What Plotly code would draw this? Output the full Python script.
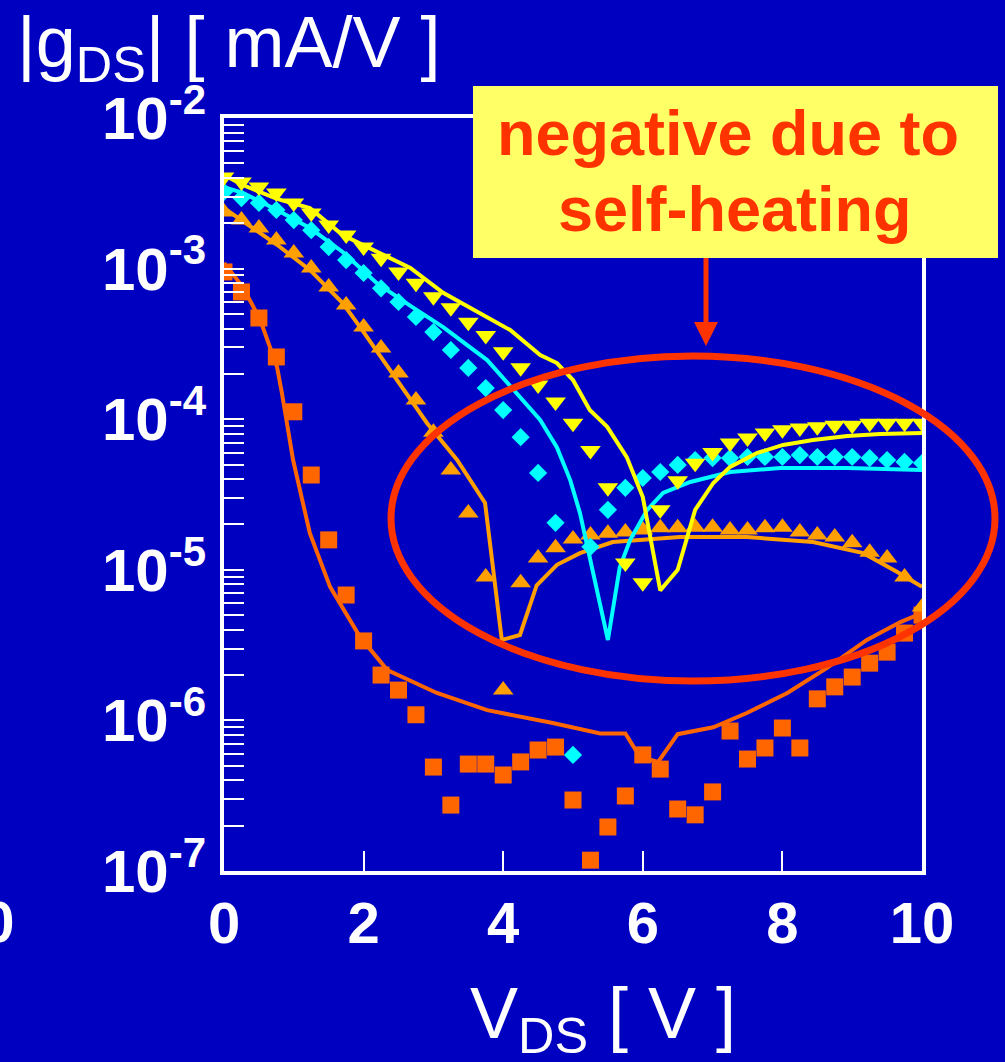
import plotly.graph_objects as go

# ---------------- data ----------------
VDS = [i * 0.25 for i in range(41)]  # 0 .. 10 V, 0.25 V step (measured points)

# Vg highest: yellow triangles (measured) + line (simulated)
yel_meas = [4.06e-3, 3.76e-3, 3.48e-3, 3.18e-3, 2.73e-3, 2.34e-3, 1.95e-3, 1.67e-3, 1.39e-3,
            1.17e-3, 9.5e-4, 8.0e-4, 6.5e-4, 5.5e-4, 4.4e-4, 3.6e-4, 2.8e-4, 2.2e-4, 1.69e-4,
            1.30e-4, 9.4e-5, 6.2e-5, 3.5e-5, 1.11e-5, 8.2e-6, 2.5e-5, 3.9e-5, 5.1e-5, 6.0e-5,
            6.95e-5, 7.5e-5, 8.1e-5, 8.5e-5, 8.75e-5, 8.9e-5, 9.1e-5, 9.1e-5, 9.4e-5, 9.4e-5,
            9.4e-5, 9.4e-5]
yel_sim_x = [0, 0.27, 0.76, 1.23, 1.70, 2.19, 2.67, 3.14, 3.62, 4.10, 4.53, 4.77, 5.0, 5.24, 5.49,
             5.77, 6.0, 6.10, 6.25, 6.50, 6.63, 6.75, 7.01, 7.25, 7.64, 8.01, 8.44, 8.93, 9.40, 10]
yel_sim_y = [4.19e-3, 3.59e-3, 2.90e-3, 2.52e-3, 1.67e-3, 1.29e-3, 1.01e-3, 6.9e-4, 5.15e-4,
             3.91e-4, 2.67e-4, 2.36e-4, 1.82e-4, 1.15e-4, 8.9e-5, 5.6e-5, 3.04e-5, 1.75e-5,
             7.3e-6, 1.0e-5, 1.65e-5, 2.5e-5, 3.77e-5, 4.82e-5, 5.97e-5, 6.75e-5, 7.28e-5,
             7.73e-5, 7.98e-5, 8.1e-5]

# cyan diamonds + line
cya_meas = [3.23e-3, 2.94e-3, 2.73e-3, 2.45e-3, 2.10e-3, 1.80e-3, 1.39e-3, 1.14e-3, 9.35e-4,
            7.4e-4, 6.0e-4, 4.78e-4, 3.79e-4, 2.88e-4, 2.19e-4, 1.61e-4, 1.15e-4, 7.6e-5, 4.4e-5,
            2.05e-5, 5.9e-7, 1.42e-5, 2.5e-5, 3.5e-5, 4.07e-5, 4.46e-5, 4.97e-5, 5.36e-5, 5.52e-5,
            5.52e-5, 5.61e-5, 5.61e-5, 5.61e-5, 5.78e-5, 5.61e-5, 5.61e-5, 5.61e-5, 5.52e-5,
            5.36e-5, 5.2e-5, 5.12e-5]
cya_sim_x = [0, 0.27, 0.76, 1.23, 1.70, 2.19, 2.66, 3.14, 3.77, 4.20, 4.53, 4.77, 4.96, 5.10,
             5.24, 5.50, 5.67, 5.82, 6.06, 6.29, 6.68, 7.25, 7.97, 8.93, 10]
cya_sim_y = [3.48e-3, 3.18e-3, 2.45e-3, 1.86e-3, 1.29e-3, 8.0e-4, 5.7e-4, 4.09e-4, 2.47e-4,
             1.49e-4, 9.9e-5, 6.5e-5, 3.94e-5, 2.38e-5, 1.22e-5, 3.42e-6, 1.04e-5, 1.58e-5,
             2.49e-5, 3.24e-5, 3.83e-5, 4.46e-5, 4.74e-5, 4.74e-5, 4.6e-5]

# orange triangles + line
org_meas = [2.38e-3, 2.10e-3, 1.86e-3, 1.55e-3, 1.27e-3, 1.01e-3, 7.55e-4, 5.73e-4, 4.09e-4,
            2.97e-4, 2.03e-4, 1.34e-4, 8.2e-5, 4.6e-5, 2.38e-5, 8.95e-6, 1.59e-6, 8.2e-6, 1.20e-5,
            1.40e-5, 1.60e-5, 1.70e-5, 1.75e-5, 1.78e-5, 1.84e-5, 1.90e-5, 1.90e-5, 1.92e-5,
            1.92e-5, 1.84e-5, 1.84e-5, 1.90e-5, 1.92e-5, 1.78e-5, 1.70e-5, 1.65e-5, 1.51e-5,
            1.31e-5, 1.20e-5, 8.95e-6, 5.66e-6]
org_sim_x = [0, 0.25, 0.52, 0.76, 1.23, 1.70, 1.95, 2.48, 2.91, 3.34, 3.74, 3.98, 4.24, 4.48,
             4.77, 5.10, 5.57, 6.53, 7.49, 8.44, 9.16, 9.64, 10]
org_sim_y = [2.52e-3, 2.10e-3, 1.72e-3, 1.44e-3, 9.8e-4, 5.9e-4, 4.09e-4, 1.82e-4, 9.4e-5,
             5.36e-5, 2.78e-5, 3.42e-6, 3.69e-6, 7.9e-6, 1.08e-5, 1.29e-5, 1.53e-5, 1.65e-5,
             1.65e-5, 1.53e-5, 1.29e-5, 9.7e-6, 7.7e-6]

# red-orange squares + line
red_meas = [9.5e-4, 7.0e-4, 4.7e-4, 2.59e-4, 1.12e-4, 4.26e-5, 1.58e-5, 6.8e-6, 3.37e-6, 2.0e-6,
            1.59e-6, 1.09e-6, 4.9e-7, 2.74e-7, 5.13e-7, 5.13e-7, 4.34e-7, 5.3e-7, 6.36e-7,
            6.65e-7, 2.96e-7, 1.18e-7, 1.96e-7, 3.15e-7, 5.9e-7, 4.75e-7, 2.58e-7, 2.36e-7,
            3.35e-7, 8.5e-7, 5.54e-7, 6.56e-7, 8.9e-7, 6.56e-7, 1.39e-6, 1.67e-6, 1.94e-6,
            2.4e-6, 2.84e-6, 3.8e-6, 5.0e-6]
red_sim_x = [0, 0.27, 0.52, 0.76, 0.83, 0.99, 1.23, 1.52, 1.95, 2.34, 3.05, 3.77, 4.71, 5.39,
             5.75, 5.96, 6.22, 6.50, 7.01, 7.49, 8.07, 8.64, 9.21, 9.69, 10]
red_sim_y = [1.09e-3, 7.55e-4, 4.56e-4, 2.22e-4, 1.49e-4, 5.36e-5, 1.75e-5, 7.7e-6, 3.58e-6,
             2.16e-6, 1.52e-6, 1.17e-6, 9.6e-7, 8.2e-7, 8.2e-7, 5.71e-7, 5.3e-7, 8.1e-7, 9.0e-7,
             1.12e-6, 1.52e-6, 2.23e-6, 3.42e-6, 4.5e-6, 5.16e-6]

x_ticks = [0, 2, 4, 6, 8, 10]
y_decades = [-7, -6, -5, -4, -3, -2]

# ---------------- styling ----------------
BG = "#0000C0"
W, H = 1005, 1062
L, R, T, B = 224, 83, 118, 191
PW, PH = W - L - R, H - T - B


def px_x(p):
    return (p - L) / PW


def px_y(p):
    return (H - B - p) / PH


FONT = "Liberation Sans, Arial, Helvetica, sans-serif"

fig = go.Figure()
series = [
    (red_sim_x, red_sim_y, red_meas, "#FF6600", "#FF6600", "square", 17),
    (org_sim_x, org_sim_y, org_meas, "#FFA000", "#FFA000", "triangle-up", 18),
    (cya_sim_x, cya_sim_y, cya_meas, "#00FFFF", "#00FFFF", "diamond", 14),
    (yel_sim_x, yel_sim_y, yel_meas, "#FFFF00", "#FFFF00", "triangle-down", 18),
]
for sx, sy, my, lc, mc, sym, ms in series:
    fig.add_trace(go.Scatter(x=sx, y=sy, mode="lines",
                             line=dict(color=lc, width=4), showlegend=False, hoverinfo="skip"))
    fig.add_trace(go.Scatter(x=VDS, y=my, mode="markers",
                             marker=dict(symbol=sym, size=ms, color=mc, line=dict(width=0)),
                             showlegend=False, hoverinfo="skip"))

# y ticks: every 1..9 x decade, labels only on decades
yt_vals, yt_text = [], []
for d in y_decades:
    for m in range(1, 10):
        if d == -2 and m > 1:
            break
        yt_vals.append(m * 10.0 ** d)
        yt_text.append(f"10<sup>{d}</sup>" if m == 1 else "")

fig.update_layout(
    width=W, height=H,
    margin=dict(l=L, r=R, t=T, b=B, pad=0),
    paper_bgcolor=BG, plot_bgcolor=BG,
    showlegend=False,
    xaxis=dict(range=[0, 10], tickvals=x_ticks, ticktext=[str(v) for v in x_ticks],
               ticks="inside", ticklen=20, tickwidth=2, tickcolor="white",
               showline=True, linewidth=4, linecolor="white", mirror=True,
               showgrid=False, zeroline=False, ticklabelstandoff=-2,
               tickfont=dict(family=FONT, size=58, color="white", weight="bold")),
    yaxis=dict(type="log", range=[-7, -2], tickvals=yt_vals, ticktext=yt_text,
               ticks="inside", ticklen=20, tickwidth=2, tickcolor="white",
               showline=True, linewidth=4, linecolor="white", mirror=True,
               showgrid=False, zeroline=False, ticklabelstandoff=2,
               tickfont=dict(family=FONT, size=60, color="white", weight="bold")),
)

shapes = []
# highlight ellipse
shapes.append(dict(type="circle", xref="paper", yref="paper", layer="above",
                   x0=px_x(391), x1=px_x(995), y0=px_y(681), y1=px_y(356),
                   line=dict(color="#FF3300", width=7)))
# yellow note box
shapes.append(dict(type="rect", xref="paper", yref="paper", layer="above",
                   x0=px_x(473), x1=px_x(998), y0=px_y(258), y1=px_y(86),
                   fillcolor="#FFFF66", line=dict(width=0)))
# arrow shaft + head
shapes.append(dict(type="line", xref="paper", yref="paper", layer="above",
                   x0=px_x(706), x1=px_x(706), y0=px_y(258), y1=px_y(326),
                   line=dict(color="#FF3300", width=5)))
shapes.append(dict(type="path", xref="paper", yref="paper", layer="above",
                   path=f"M {px_x(694)},{px_y(322)} L {px_x(718)},{px_y(322)} L {px_x(706)},{px_y(346)} Z",
                   fillcolor="#FF3300", line=dict(width=0)))
fig.update_layout(shapes=shapes)

ann = [
    dict(text="<b>negative due to</b>", x=px_x(728), y=px_y(133), font=dict(size=63, color="#FF3300")),
    dict(text="<b>self-heating</b>", x=px_x(735), y=px_y(209), font=dict(size=63, color="#FF3300")),
    dict(text="|g<sub>DS</sub>| [ mA/V ]", x=px_x(15), y=px_y(47), xanchor="left",
         font=dict(size=72, color="white")),
    dict(text="V<sub>DS</sub> [ V ]", x=px_x(603), y=px_y(1018), font=dict(size=72, color="white")),
    dict(text="<b>10</b>", x=px_x(17), y=px_y(921), xanchor="right", font=dict(size=58, color="white")),
]
for a in ann:
    a.setdefault("xanchor", "center")
    a.update(xref="paper", yref="paper", showarrow=False, yanchor="middle")
    a["font"]["family"] = FONT
fig.update_layout(annotations=ann)

fig.write_html("out.html", config={"displayModeBar": False},
               post_script="document.body.style.margin='0';document.body.style.overflow='hidden';")
